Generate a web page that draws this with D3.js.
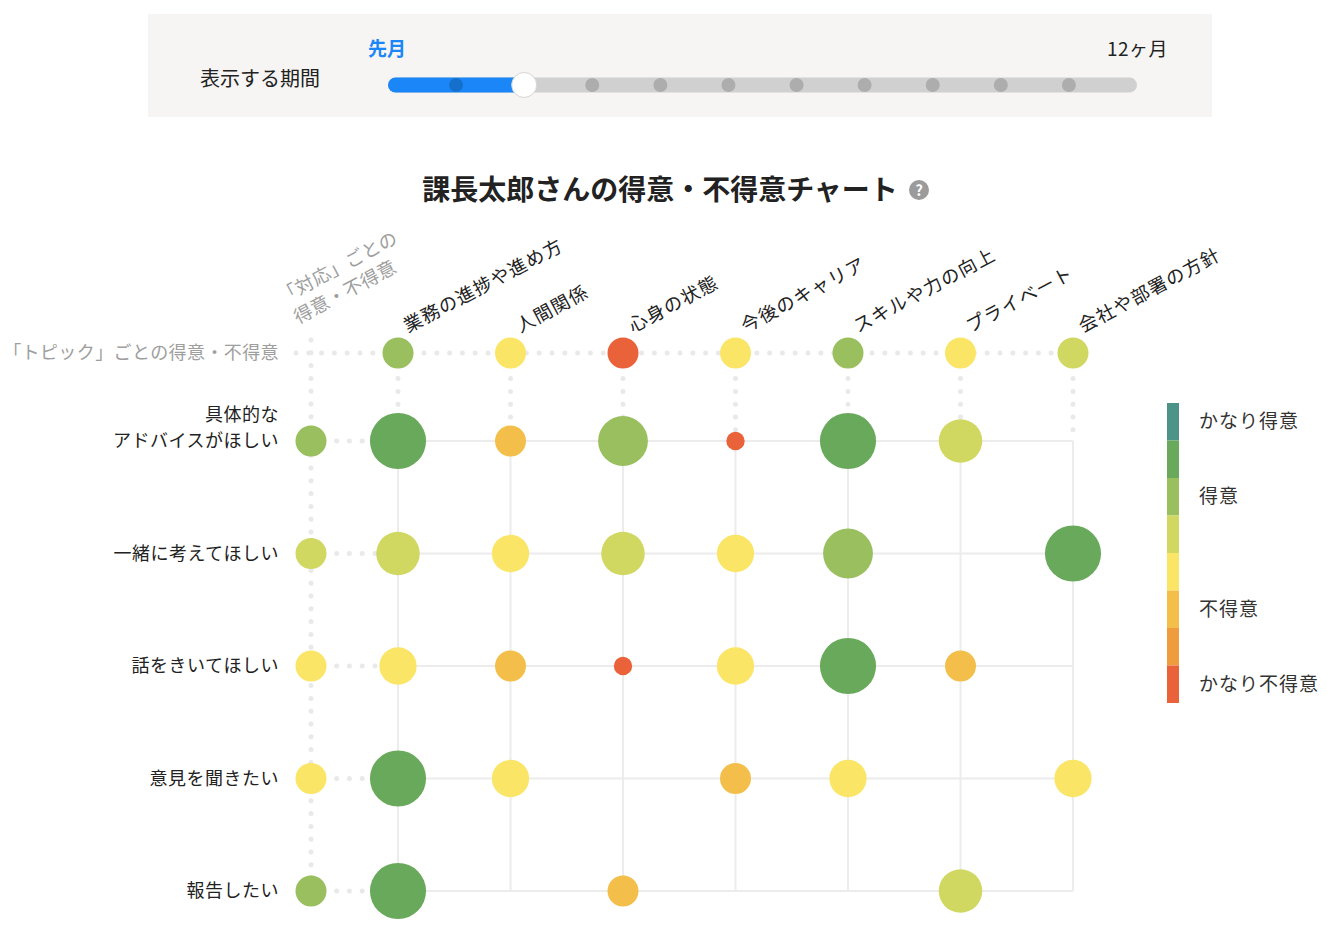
<!DOCTYPE html>
<html>
<head>
<meta charset="utf-8">
<script src="https://cdn.jsdelivr.net/npm/d3@7"></script>
<style>
  body { margin: 0; background: #fff; font-family: "Noto Sans CJK JP", "Noto Sans", sans-serif; }
  svg { display: block; }
</style>
</head>
<body>
<svg id="chart"></svg>
<script>
// DATA
const topics = ['業務の進捗や進め方', '人間関係', '心身の状態', '今後のキャリア', 'スキルや力の向上', 'プライベート', '会社や部署の方針'];
const responses = ['具体的な\nアドバイスがほしい', '一緒に考えてほしい', '話をきいてほしい', '意見を聞きたい', '報告したい'];
// level 1 = かなり不得意 ... 8 = かなり得意, null = no data
const topicLevels = [6, 4, 1, 4, 6, 4, 5];
const responseLevels = [6, 5, 4, 4, 6];
const cellLevels = [
  [7, 3, 6, 1, 7, 5, null],
  [5, 4, 5, 4, 6, null, 7],
  [4, 3, 1, 4, 7, 3, null],
  [7, 4, null, 3, 4, null, 4],
  [7, null, 3, null, null, 5, null]
];
const levels = [8, 7, 6, 5, 4, 3, 2, 1];
const levelColors = ['#4b9487', '#69a95b', '#99bf5f', '#d0d862', '#fbe566', '#f3bf4a', '#ef9c3e', '#ea6239'];
const legendLabels = [[8, 'かなり得意'], [6, '得意'], [3, '不得意'], [1, 'かなり不得意']];
const periods = d3.range(1, 13);
const selectedPeriod = 3;
const periodEndLabels = ['先月', '12ヶ月'];

const width = 1334, height = 937;
const svg = d3.select('#chart').attr('width', width).attr('height', height);

//PERIOD SLIDER
const panel = svg.append('g');
panel.append('rect').attr('x', 148).attr('y', 14).attr('width', 1064).attr('height', 103).attr('fill', '#f6f5f3');
panel.append('text').attr('x', 200).attr('y', 86).attr('font-size', 20).attr('fill', '#222').text('表示する期間');

const px = d3.scalePoint().domain(periods).range([388, 1137]);
const cap = 7.5;
panel.append('line')
  .attr('x1', px(1) + cap).attr('x2', px(12) - cap).attr('y1', 85).attr('y2', 85)
  .attr('stroke', '#d0d0d0').attr('stroke-width', 15).attr('stroke-linecap', 'round');
panel.append('line')
  .attr('x1', px(1) + cap).attr('x2', px(selectedPeriod)).attr('y1', 85).attr('y2', 85)
  .attr('stroke', '#1a86f7').attr('stroke-width', 15).attr('stroke-linecap', 'round');
panel.selectAll('.tick-dot')
  .data(periods.slice(1, -1).filter((p) => p !== selectedPeriod))
  .enter()
  .append('circle')
  .attr('cx', (d) => px(d)).attr('cy', 85).attr('r', 7)
  .attr('fill', 'rgba(0,0,0,0.17)');
panel.append('circle')
  .attr('cx', px(selectedPeriod)).attr('cy', 85).attr('r', 12.5)
  .attr('fill', '#fff').attr('stroke', '#d6d6d6').attr('stroke-width', 1);
panel.append('text').attr('x', px(1) - 20).attr('y', 56).attr('font-size', 19)
  .attr('font-weight', 'bold').attr('fill', '#1a86f7').text(periodEndLabels[0]);
panel.append('text').attr('x', 1168).attr('y', 56).attr('font-size', 19).attr('text-anchor', 'end')
  .attr('letter-spacing', 0.5).attr('fill', '#222').text(periodEndLabels[1]);

//TITLE
svg.append('text').attr('x', 660).attr('y', 200).attr('text-anchor', 'middle')
  .attr('font-size', 28).attr('font-weight', 'bold').attr('fill', '#222')
  .text('課長太郎さんの得意・不得意チャート');
svg.append('circle').attr('cx', 919).attr('cy', 190).attr('r', 10).attr('fill', '#9b9b9b');
svg.append('text').attr('x', 919).attr('y', 195.5).attr('text-anchor', 'middle')
  .attr('font-size', 15).attr('font-weight', 'bold').attr('fill', '#fff').text('?');

//SCALES
const x = d3.scalePoint().domain(d3.range(topics.length)).range([398, 1073]);
const y = d3.scalePoint().domain(d3.range(responses.length)).range([441, 891]);
const xResp = 311, yTopic = 353;
const color = d3.scaleOrdinal().domain(levels).range(levelColors);
const radius = d3.scaleLinear().domain([1, 8]).range([9.2, 31.2]);
const headerRadius = 15.5;

//GRID
const grid = svg.append('g');
const dotted = (sel) => sel.attr('stroke', '#e9e9e9').attr('stroke-width', 5)
  .attr('stroke-linecap', 'round').attr('stroke-dasharray', '0 12.8');
const solid = (sel) => sel.attr('stroke', '#ececec').attr('stroke-width', 2);

grid.append('line').attr('x1', 296).attr('x2', x(topics.length - 1)).attr('y1', yTopic).attr('y2', yTopic).call(dotted);
grid.append('line').attr('x1', xResp).attr('x2', xResp).attr('y1', 340).attr('y2', y(responses.length - 1)).call(dotted);
grid.selectAll('.vdot').data(topics).enter().append('line')
  .attr('x1', (d, i) => x(i)).attr('x2', (d, i) => x(i))
  .attr('y1', yTopic).attr('y2', y(0)).call(dotted);
grid.selectAll('.hdot').data(responses).enter().append('line')
  .attr('x1', xResp).attr('x2', x(0))
  .attr('y1', (d, i) => y(i)).attr('y2', (d, i) => y(i)).call(dotted);
grid.selectAll('.vline').data(topics).enter().append('line')
  .attr('x1', (d, i) => x(i)).attr('x2', (d, i) => x(i))
  .attr('y1', y(0)).attr('y2', y(responses.length - 1)).call(solid);
grid.selectAll('.hline').data(responses).enter().append('line')
  .attr('x1', x(0)).attr('x2', x(topics.length - 1))
  .attr('y1', (d, i) => y(i)).attr('y2', (d, i) => y(i)).call(solid);

//LABELS
const labelColor = '#222', headColor = '#9e9e9e';
svg.selectAll('.col-label').data(topics).enter().append('text')
  .attr('transform', (d, i) => `translate(${x(i) + 10},333) rotate(-28)`)
  .attr('font-size', 18.5).attr('letter-spacing', 1.2).attr('fill', labelColor)
  .text((d) => d);

const respHead = svg.append('text')
  .attr('transform', 'translate(283,304) rotate(-28)')
  .attr('font-size', 18.5).attr('letter-spacing', 0.3).attr('fill', headColor);
respHead.append('tspan').attr('x', 0).attr('dy', 0).text('「対応」ごとの');
respHead.append('tspan').attr('x', 4).attr('dy', 25).text('得意・不得意');

svg.append('text').attr('x', 279).attr('y', yTopic + 6).attr('text-anchor', 'end')
  .attr('font-size', 18).attr('letter-spacing', 0.4).attr('fill', headColor)
  .text('「トピック」ごとの得意・不得意');

svg.selectAll('.row-label').data(responses).enter().append('text')
  .attr('text-anchor', 'end').attr('font-size', 18).attr('letter-spacing', 0.5).attr('fill', labelColor)
  .each(function (d, i) {
    const lines = d.split('\n');
    const t = d3.select(this);
    lines.forEach((line, k) => {
      t.append('tspan').attr('x', 279)
        .attr('y', y(i) + 6 - (lines.length - 1 - k) * 26)
        .text(line);
    });
  });

//CIRCLES
svg.selectAll('.topic-dot').data(topicLevels).enter().append('circle')
  .attr('cx', (d, i) => x(i)).attr('cy', yTopic).attr('r', headerRadius)
  .attr('fill', (d) => color(d));
svg.selectAll('.resp-dot').data(responseLevels).enter().append('circle')
  .attr('cx', xResp).attr('cy', (d, i) => y(i)).attr('r', headerRadius)
  .attr('fill', (d) => color(d));

const cells = [];
cellLevels.forEach((row, r) => row.forEach((v, c) => { if (v !== null) cells.push({ r, c, v }); }));
svg.selectAll('.cell').data(cells).enter().append('circle')
  .attr('cx', (d) => x(d.c)).attr('cy', (d) => y(d.r)).attr('r', (d) => radius(d.v))
  .attr('fill', (d) => color(d.v));

//LEGEND
const ly = d3.scaleBand().domain(levels).range([403, 703]);
const legend = svg.append('g');
legend.selectAll('rect').data(levels).enter().append('rect')
  .attr('x', 1167).attr('width', 12).attr('y', (d) => ly(d)).attr('height', ly.bandwidth())
  .attr('fill', (d) => color(d));
legend.selectAll('text').data(legendLabels).enter().append('text')
  .attr('x', 1199).attr('y', (d) => ly(d[0]) + ly.bandwidth() / 2 + 6.5)
  .attr('font-size', 19).attr('letter-spacing', 1).attr('fill', '#333')
  .text((d) => d[1]);
</script>
</body>
</html>
